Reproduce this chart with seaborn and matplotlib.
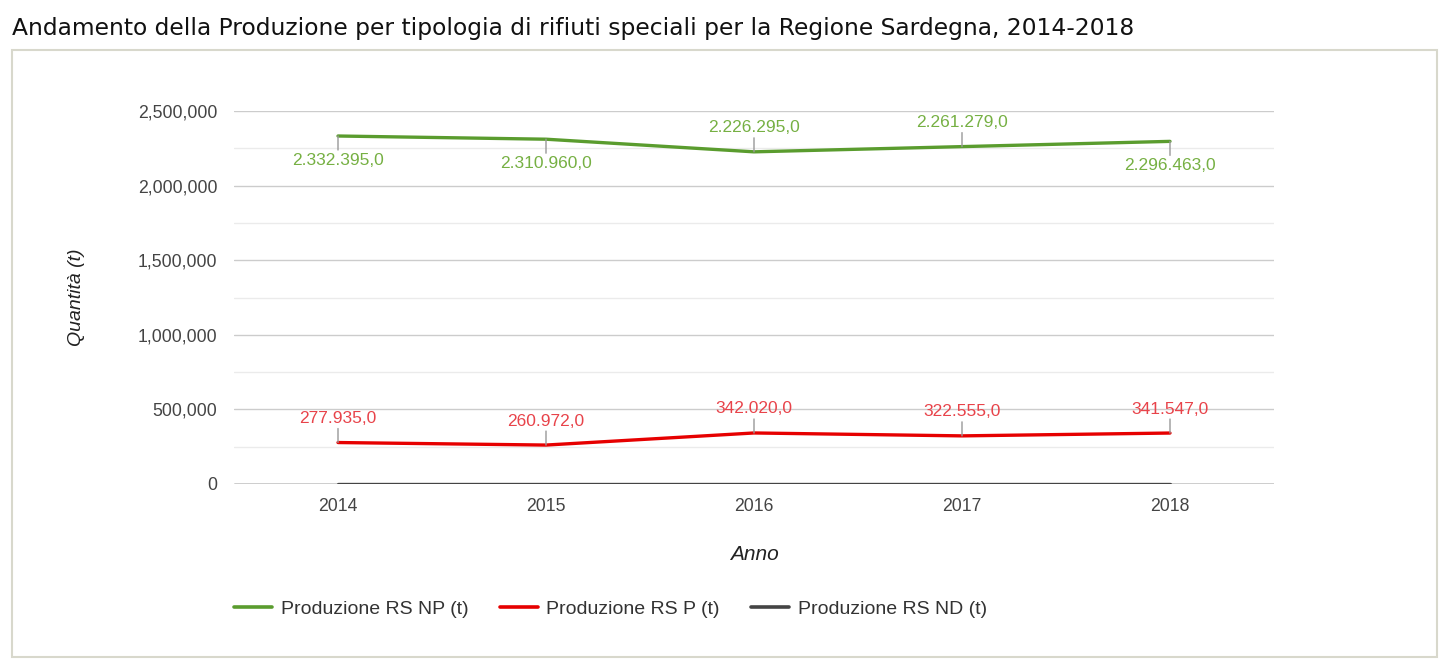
import numpy as np
import pandas as pd
import matplotlib
matplotlib.use("Agg")
import matplotlib.pyplot as plt
from matplotlib.patches import Rectangle
from matplotlib.ticker import FuncFormatter, MultipleLocator
import seaborn as sns

# Data
years = [2014, 2015, 2016, 2017, 2018]
rs_np = [2332395.0, 2310960.0, 2226295.0, 2261279.0, 2296463.0]
rs_p = [277935.0, 260972.0, 342020.0, 322555.0, 341547.0]
rs_nd = [0.0, 0.0, 0.0, 0.0, 0.0]
series_names = ["Produzione RS NP (t)", "Produzione RS P (t)", "Produzione RS ND (t)"]
# label placement per point: +1 above, -1 below
np_side = [-1, -1, 1, 1, -1]
p_side = [1, 1, 1, 1, 1]

df = pd.DataFrame({
    "Anno": years * 3,
    "Valore": rs_np + rs_p + rs_nd,
    "Serie": [series_names[0]] * 5 + [series_names[1]] * 5 + [series_names[2]] * 5,
})

line_colors = ["#5a9c2e", "#e60000", "#444444"]
label_colors = ["#76b043", "#e8434a"]

sns.set_theme(style="white")
plt.rcParams["font.family"] = ["Liberation Sans", "DejaVu Sans"]

fig = plt.figure(figsize=(14.39, 6.7), dpi=100)
W, H = 1439, 670

# outer frame
fig.patches.append(Rectangle((12 / W, 1 - 657 / H), 1425 / W, 607 / H,
                             transform=fig.transFigure, fill=False,
                             edgecolor="#d8d8cc", linewidth=1.5))

fig.text(12 / W, 1 - 28 / H, "Andamento della Produzione per tipologia di rifiuti speciali per la Regione Sardegna, 2014-2018",
         fontsize=16.8, family="DejaVu Sans", va="center", ha="left", color="#111111")

ax = fig.add_axes([234 / W, 1 - 484 / H, 1040 / W, 373 / H])

sns.lineplot(data=df, x="Anno", y="Valore", hue="Serie", palette=line_colors,
             linewidth=2.4, ax=ax, legend=False, zorder=3)

ax.set_xlim(years[0] - 0.5, years[-1] + 0.5)
ax.set_ylim(0, 2500000)
ax.set_xticks(years)
ax.yaxis.set_major_locator(MultipleLocator(500000))
ax.yaxis.set_minor_locator(MultipleLocator(250000))
ax.yaxis.set_major_formatter(FuncFormatter(lambda v, p: f"{int(v):,}"))
ax.grid(which="major", axis="y", color="#cccccc", linewidth=1)
ax.grid(which="minor", axis="y", color="#ebebeb", linewidth=1)
ax.set_axisbelow(True)
for s in ax.spines.values():
    s.set_visible(False)
ax.axhline(0, color="#333333", linewidth=1, zorder=2)
ax.tick_params(axis="both", which="both", length=0, labelsize=12.7, labelcolor="#444444")
ax.tick_params(axis="y", pad=12)
ax.tick_params(axis="x", pad=10)

ax.set_xlabel("Anno", fontsize=15, style="italic", color="#222222", labelpad=22)
ax.set_ylabel("Quantità (t)", fontsize=14, style="italic", color="#222222", labelpad=38)


def fmt_it(v):
    return f"{v:,.1f}".replace(",", "X").replace(".", ",").replace("X", ".")


for vals, sides, col in [(rs_np, np_side, label_colors[0]), (rs_p, p_side, label_colors[1])]:
    for x, v, s in zip(years, vals, sides):
        ax.annotate("", xy=(x, v), xytext=(0, 14 * s), textcoords="offset pixels",
                    arrowprops=dict(arrowstyle="-", color="#999999", lw=1, shrinkA=0, shrinkB=0))
        ax.annotate(fmt_it(v), xy=(x, v), xytext=(0, 24 * s), textcoords="offset pixels",
                    ha="center", va="center", fontsize=12.5, color=col)

handles = [plt.Line2D([], [], color=c, linewidth=2.6) for c in line_colors]
fig.legend(handles, series_names, loc="center left", bbox_to_anchor=(234 / W, 1 - 609 / H),
           ncol=3, frameon=False, fontsize=14, handlelength=1.95, handletextpad=0.46,
           columnspacing=1.6, borderpad=0, borderaxespad=0, labelcolor="#333333")

fig.savefig("out.png", dpi=100)
